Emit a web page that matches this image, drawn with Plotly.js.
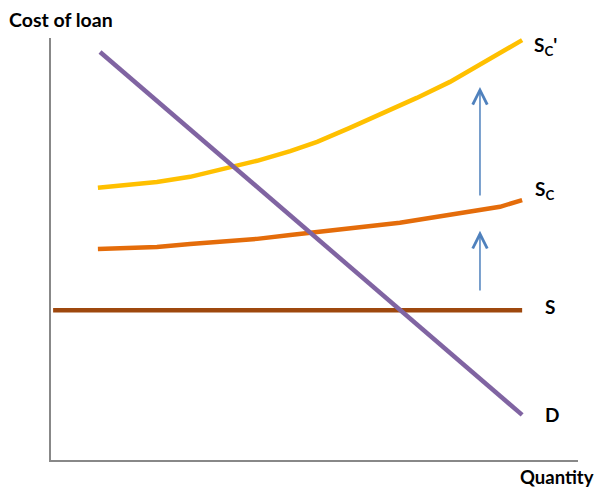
<!DOCTYPE html>
<html>
<head>
<meta charset="utf-8">
<script src="https://cdn.plot.ly/plotly-3.0.1.min.js"></script>
<style>html,body{margin:0;padding:0;background:#fff;}#chart{width:599px;height:489px;}</style>
</head>
<body>
<div id="chart"></div>
<script>
// Demand curve D
const dX = [9.3, 34.0, 66.2, 89.4];
const dY = [96.7, 70.1, 35.5, 10.7];
// Supply after a larger capital requirement, S_C'
const scpX = [8.9, 13.7, 20.1, 26.4, 32.6, 39.1, 45.4, 50.5, 56.7, 63.0, 69.4, 75.7, 82.0, 89.4];
const scpY = [64.5, 65.2, 65.9, 67.1, 69.0, 70.9, 73.2, 75.4, 78.7, 82.2, 85.8, 89.6, 94.1, 99.5];
// Supply with capital requirement, S_C
const scX = [8.9, 13.7, 20.1, 26.4, 32.6, 39.1, 45.4, 56.7, 66.2, 75.7, 85.2, 89.4];
const scY = [50.0, 50.2, 50.5, 51.2, 51.7, 52.4, 53.3, 55.0, 56.2, 58.1, 60.0, 61.6];
// Flat supply S
const sX = [0.4, 89.4];
const sY = [35.5, 35.5];
// Shift arrows
const arrowX = [81.4, 81.4];
const arrowFrom = [39.8, 62.3];
const arrowTo = [54.3, 88.4];
// Curve labels
const labelText = ["S<sub>C</sub>'", "S<sub>C</sub>", "S", "D"];
const labelX = [91.3, 91.5, 93.4, 93.4];
const labelY = [98.0, 64.0, 36.3, 10.7];
// Axis captions
const yCaption = 'Cost of loan';
const xCaption = 'Quantity';

const lw = 4.5;
const traces = [
  {x: sX, y: sY, mode: 'lines', line: {color: '#9e480e', width: lw}, hoverinfo: 'skip'},
  {x: scX, y: scY, mode: 'lines', line: {color: '#e46c0a', width: lw}, hoverinfo: 'skip'},
  {x: scpX, y: scpY, mode: 'lines', line: {color: '#ffc000', width: lw}, hoverinfo: 'skip'},
  {x: dX, y: dY, mode: 'lines', line: {color: '#8064a2', width: lw}, hoverinfo: 'skip'}
];

const fam = 'Lato, "Liberation Sans", sans-serif';
const lblFont = {family: fam, size: 19, color: '#000'};
const annotations = [];
for (let i = 0; i < arrowX.length; i++) {
  annotations.push({
    x: arrowX[i], y: arrowTo[i], ax: arrowX[i], ay: arrowFrom[i],
    xref: 'x', yref: 'y', axref: 'x', ayref: 'y',
    showarrow: true, arrowhead: 5, arrowsize: 1.9, arrowwidth: 1.5, arrowcolor: '#4f81bd', text: ''
  });
}
for (let i = 0; i < labelText.length; i++) {
  annotations.push({
    x: labelX[i], y: labelY[i], xref: 'x', yref: 'y', xanchor: 'left', yanchor: 'middle',
    showarrow: false, text: '<b>' + labelText[i] + '</b>', font: lblFont
  });
}
annotations.push({
  x: -0.0835, y: 1.0, xref: 'paper', yref: 'paper', xanchor: 'left', yanchor: 'bottom', yshift: 5,
  showarrow: false, text: '<b>' + yCaption + '</b>',
  font: {family: fam, size: 19.5, color: '#000'}
});
annotations.push({
  x: 1.034, y: 0, xref: 'paper', yref: 'paper', xanchor: 'right', yanchor: 'top', yshift: -4,
  showarrow: false, text: '<b>' + xCaption + '</b>',
  font: {family: fam, size: 18.5, color: '#000'}
});

const layout = {
  width: 599, height: 489,
  margin: {l: 51, r: 21, t: 38, b: 29},
  paper_bgcolor: '#fff', plot_bgcolor: '#fff',
  showlegend: false,
  xaxis: {range: [0, 100], showline: true, linecolor: '#888', linewidth: 2, showgrid: false, zeroline: false, showticklabels: false, ticks: ''},
  yaxis: {range: [0, 100], showline: true, linecolor: '#888', linewidth: 2, showgrid: false, zeroline: false, showticklabels: false, ticks: ''},
  annotations: annotations
};

Plotly.newPlot('chart', traces, layout, {staticPlot: true, displayModeBar: false});
</script>
</body>
</html>
